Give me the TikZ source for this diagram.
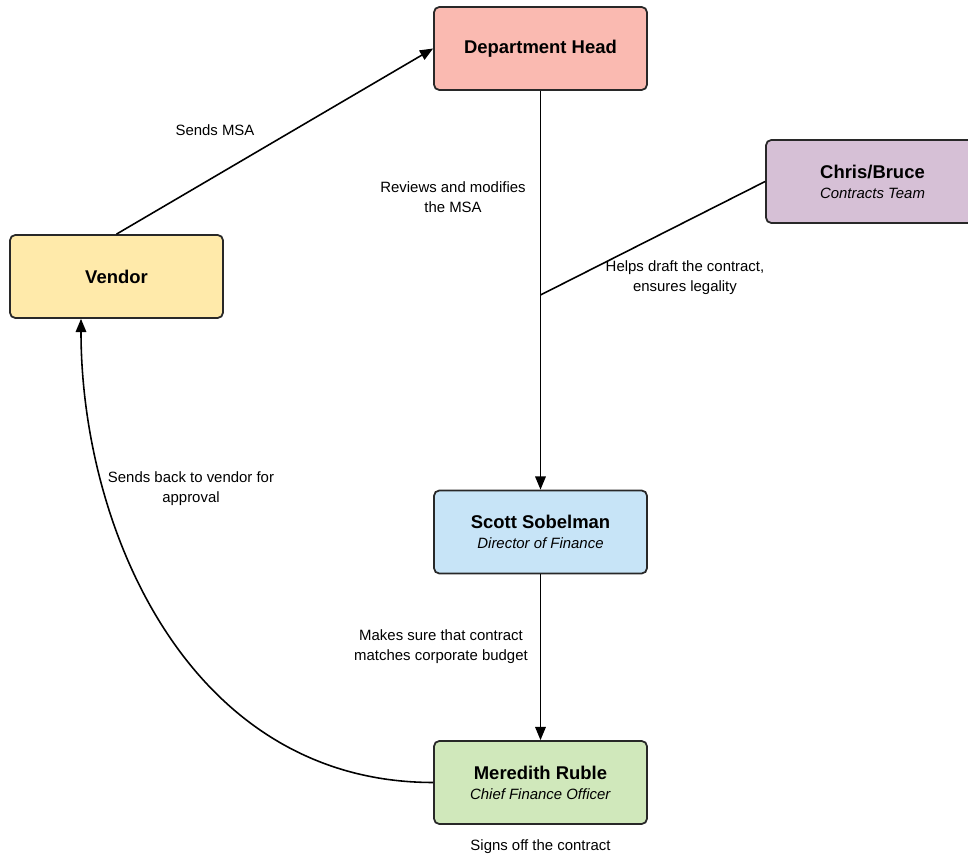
\documentclass[tikz,border=0pt]{standalone}
\usepackage{fontspec}
\setmainfont{Liberation Sans}
\usetikzlibrary{arrows.meta,calc}

\definecolor{headpink}{RGB}{250,186,177}
\definecolor{vendoryellow}{RGB}{255,234,170}
\definecolor{contractlilac}{RGB}{214,192,214}
\definecolor{financeblue}{RGB}{199,228,247}
\definecolor{cfogreen}{RGB}{208,232,187}
\definecolor{boxline}{RGB}{40,40,40}

\newcommand{\boxname}[1]{{\fontsize{10.5}{11.3}\selectfont\bfseries #1}}

\begin{document}
\begin{tikzpicture}[x=0.02cm,y=-0.02cm,
    box/.style={draw=boxline,line width=1pt,rounded corners=3pt,
      minimum width=4.26cm,minimum height=1.66cm,inner sep=0pt,
      align=center,font=\fontsize{8.5}{11.3}\selectfont},
    link/.style={line width=0.9pt,draw=black},
    flow/.style={link,-{Triangle[length=7.5pt,width=6pt]}},
    note/.style={align=center,inner sep=0pt,font=\fontsize{8.5}{11.3}\selectfont}]
  \useasboundingbox (0,0) rectangle (968,857);

  % boxes
  \node[box,fill=headpink] (head) at (540.5,48.5) {\boxname{Department Head}};
  \node[box,fill=vendoryellow] (vendor) at (116.5,276.5) {\boxname{Vendor}};
  \node[box,fill=contractlilac] (chris) at (872.5,181.5)
    {\boxname{Chris/Bruce}\\ \textit{Contracts Team}};
  \node[box,fill=financeblue] (scott) at (540.5,532)
    {\boxname{Scott Sobelman}\\ \textit{Director of Finance}};
  \node[box,fill=cfogreen] (meredith) at (540.5,782.5)
    {\boxname{Meredith Ruble}\\ \textit{Chief Finance Officer}};

  % where the contracts team joins in
  \coordinate (join) at (540.5,295);

  % connectors
  \draw[flow] (vendor.north) -- (head.west);
  \draw[flow] (head.south) -- (scott.north);
  \draw[link] (chris.west) -- (join);
  \draw[flow] (scott.south) -- (meredith.north);
  \draw[flow] (meredith.west) .. controls +(-244,0) and +(0,210) .. ($(vendor.south)+(-35.5,0)$);

  % labels
  \node[note] (msa) at (215,130) {Sends MSA};
  \node[note] (review) at (453,197) {Reviews and modifies\\the MSA};
  \node[note] (draft) at (685,278) {Helps draft the contract,\\ensures legality};
  \node[note] (budget) at (441,647) {Makes sure that contract\\matches corporate budget};
  \node[note] (back) at (191,489) {Sends back to vendor for\\approval};
  \node[note] (signs) at (540.5,847) {Signs off the contract};
\end{tikzpicture}
\end{document}
